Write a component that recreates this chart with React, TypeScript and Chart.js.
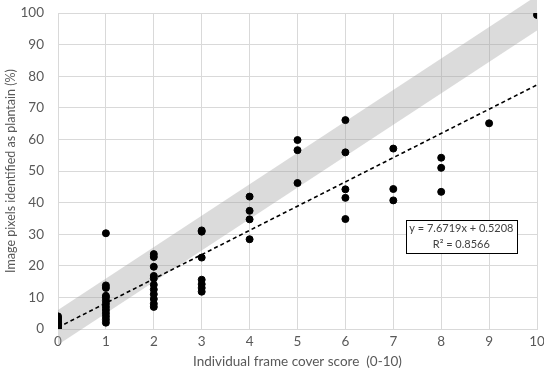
import { useEffect, useRef } from "react";
import { Chart, registerables } from "chart.js";

Chart.register(...registerables);

// Individual frame cover score (x) and % pixels identified as plantain (y)
const coverScores = [
  0, 0, 0, 0, 0, 0, 0, 0, 0,
  1, 1, 1, 1, 1, 1, 1, 1, 1, 1, 1, 1, 1,
  2, 2, 2, 2, 2, 2, 2, 2, 2, 2, 2,
  3, 3, 3, 3, 3, 3, 3,
  4, 4, 4, 4,
  5, 5, 5,
  6, 6, 6, 6, 6,
  7, 7, 7,
  8, 8, 8,
  9,
  10,
];
const plantainPct = [
  0, 0.5, 1, 1.5, 2, 2.5, 3, 3.5, 4,
  30.3, 13.8, 13, 10.5, 10, 9, 8, 7, 6, 5, 4, 3, 2,
  23.7, 22.8, 19.7, 16.8, 16, 14, 12.5, 11, 9.5, 8, 7,
  31.2, 30.8, 22.6, 15.6, 14.2, 13, 11.8,
  41.9, 37.4, 34.7, 28.4,
  59.8, 56.6, 46.2,
  66.1, 55.9, 44.2, 41.5, 34.8,
  57.1, 44.3, 40.7,
  54.2, 51, 43.4,
  65.1,
  99.4,
];

// Linear trend line end points (y = 7.6719x + 0.5208)
const trendX = [0, 10];
const trendY = [0.5208, 77.2398];

// Shaded band
const bandX = [0, 10];
const bandUpper = [6, 105.5];
const bandLower = [-5, 94.5];

const equationLines = ["y = 7.6719x + 0.5208", "R\u00b2 = 0.8566"];
const equationAnchor = { x: 8.42, y: 29.4 };

const xTitle = "Individual frame cover score  (0-10)";
const yTitle = "Image pixels identified as plantain (%)";

const FONT = "Lato";
const TEXT = "#595959";
const GRID = "#d9d9d9";

const bandPlugin = {
  id: "band",
  beforeDatasetsDraw(chart: any) {
    const { ctx } = chart;
    const x = chart.scales.x;
    const y = chart.scales.y;
    ctx.save();
    ctx.beginPath();
    ctx.moveTo(x.getPixelForValue(bandX[0]), y.getPixelForValue(bandLower[0]));
    ctx.lineTo(x.getPixelForValue(bandX[0]), y.getPixelForValue(bandUpper[0]));
    ctx.lineTo(x.getPixelForValue(bandX[1]), y.getPixelForValue(bandUpper[1]));
    ctx.lineTo(x.getPixelForValue(bandX[1]), y.getPixelForValue(bandLower[1]));
    ctx.closePath();
    ctx.fillStyle = "rgba(160,160,160,0.38)";
    ctx.fill();
    ctx.restore();
  },
};

const equationPlugin = {
  id: "equation",
  afterDatasetsDraw(chart: any) {
    const { ctx } = chart;
    const cx = chart.scales.x.getPixelForValue(equationAnchor.x);
    const cy = chart.scales.y.getPixelForValue(equationAnchor.y);
    const w = 111;
    const h = 33;
    const left = Math.round(cx - w / 2) + 0.5;
    const top = Math.round(cy - h / 2) + 0.5;
    ctx.save();
    ctx.fillStyle = "#ffffff";
    ctx.fillRect(left, top, w, h);
    ctx.strokeStyle = "#000000";
    ctx.lineWidth = 1;
    ctx.strokeRect(left, top, w, h);
    ctx.fillStyle = "#404040";
    ctx.font = `11px ${FONT}`;
    ctx.textAlign = "center";
    ctx.textBaseline = "middle";
    ctx.fillText(equationLines[0], cx, cy - 7.5);
    ctx.fillText(equationLines[1], cx, cy + 8);
    ctx.restore();
  },
};

export default function App() {
  const canvasRef = useRef<HTMLCanvasElement | null>(null);

  useEffect(() => {
    document.body.style.margin = "0";
    const canvas = canvasRef.current;
    if (!canvas) return;
    const points = coverScores.map((x, i) => ({ x, y: plantainPct[i] }));
    const trend = trendX.map((x, i) => ({ x, y: trendY[i] }));

    const chart = new Chart(canvas, {
      type: "scatter",
      data: {
        datasets: [
          {
            type: "line",
            data: trend,
            borderColor: "#000000",
            borderWidth: 1.6,
            borderDash: [4, 3],
            pointRadius: 0,
            fill: false,
            order: 2,
          } as any,
          {
            data: points,
            backgroundColor: "#000000",
            borderColor: "#000000",
            pointRadius: 3.5,
            pointHoverRadius: 3.5,
            order: 1,
          },
        ],
      },
      options: {
        animation: false,
        responsive: false,
        maintainAspectRatio: false,
        layout: { padding: { top: 13, right: 7, left: 0, bottom: 0 } },
        plugins: {
          legend: { display: false },
          tooltip: { enabled: false },
        },
        scales: {
          x: {
            type: "linear",
            min: 0,
            max: 10,
            afterFit: (s: any) => {
              s.height = 53;
              s.paddingLeft = 0;
              s.paddingRight = 0;
            },
            ticks: {
              stepSize: 1,
              color: TEXT,
              font: { family: FONT, size: 13.5 },
              padding: 5,
            },
            grid: { color: GRID, drawTicks: false, lineWidth: 1 },
            border: { color: GRID },
            title: {
              display: true,
              text: xTitle,
              color: TEXT,
              font: { family: FONT, size: 13.5 },
              padding: { top: 0, bottom: 12 },
            },
          },
          y: {
            type: "linear",
            min: 0,
            max: 100,
            afterFit: (s: any) => {
              s.width = 58;
              s.paddingTop = 0;
              s.paddingBottom = 0;
            },
            ticks: {
              stepSize: 10,
              color: TEXT,
              font: { family: FONT, size: 13.5 },
              padding: 14,
            },
            grid: { color: GRID, drawTicks: false, lineWidth: 1 },
            border: { color: GRID },
            title: {
              display: true,
              text: yTitle,
              color: TEXT,
              font: { family: FONT, size: 12.5 },
              padding: { top: 3, bottom: 0 },
            },
          },
        },
      },
      plugins: [bandPlugin, equationPlugin],
    });
    return () => chart.destroy();
  }, []);

  return (
    <canvas
      ref={canvasRef}
      width={544}
      height={382}
      style={{ display: "block", width: 544, height: 382 }}
    />
  );
}
